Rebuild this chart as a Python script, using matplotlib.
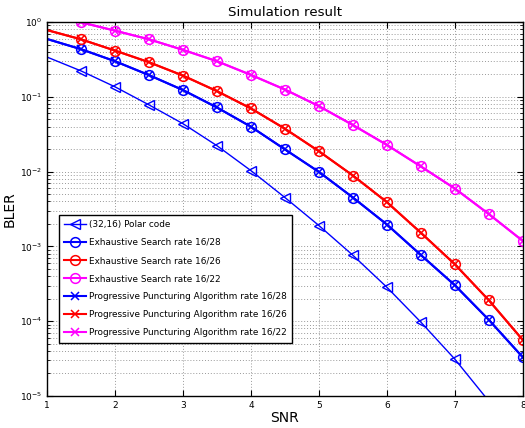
import matplotlib
matplotlib.use('Agg')
import matplotlib.pyplot as plt
from matplotlib.ticker import LogLocator, NullFormatter

snr = [1.0, 1.5, 2.0, 2.5, 3.0, 3.5, 4.0, 4.5, 5.0, 5.5, 6.0, 6.5, 7.0, 7.5, 8.0]

polar_snr = [1.0, 1.5, 2.0, 2.5, 3.0, 3.5, 4.0, 4.5, 5.0, 5.5, 6.0, 6.5, 7.0, 7.5]
polar_bler = [0.34, 0.222, 0.136, 0.078, 0.0437, 0.0222, 0.0103, 0.0045, 0.0019,
              7.6e-4, 2.84e-4, 9.7e-5, 3.1e-5, 8.5e-6]

es_28 = [0.593, 0.433, 0.299, 0.195, 0.123, 0.072, 0.0398, 0.0198, 0.0099,
         0.0045, 0.00196, 7.66e-4, 3.02e-4, 1.04e-4, 3.28e-5]
es_26 = [0.78, 0.587, 0.415, 0.29, 0.192, 0.119, 0.0699, 0.0374, 0.0187,
         0.00885, 0.0039, 0.00152, 5.75e-4, 1.9e-4, 5.58e-5]
es_22 = [1.25, 0.99, 0.766, 0.587, 0.424, 0.299, 0.196, 0.125, 0.075,
         0.0419, 0.0227, 0.0117, 0.00593, 0.0027, 0.00118]

ppa_28 = [0.593, 0.433, 0.299, 0.195, 0.123, 0.072, 0.0398, 0.0198, 0.0099,
          0.0045, 0.00196, 7.66e-4, 3.02e-4, 1.04e-4, 3.28e-5]
ppa_26 = [0.78, 0.587, 0.415, 0.29, 0.192, 0.119, 0.0699, 0.0374, 0.0187,
          0.00885, 0.0039, 0.00152, 5.75e-4, 1.9e-4, 5.58e-5]
ppa_22 = [1.25, 0.99, 0.766, 0.587, 0.424, 0.299, 0.196, 0.125, 0.075,
          0.0419, 0.0227, 0.0117, 0.00593, 0.0027, 0.00118]

fig = plt.figure(figsize=(5.25, 4.28), dpi=100)
ax = fig.add_axes([0.0895, 0.0748, 0.9065, 0.8738])

mk = slice(1, None)
ax.semilogy(polar_snr, polar_bler, color='blue', lw=1.0, marker='<', ms=7.5,
            mfc='none', mew=1.0, markevery=slice(1, -1), label='(32,16) Polar code')
ax.semilogy(snr, es_28, color='blue', lw=1.5, marker='o', ms=7, mfc='none',
            mew=1.1, markevery=mk, label='Exhaustive Search rate 16/28')
ax.semilogy(snr, es_26, color='red', lw=1.5, marker='o', ms=7, mfc='none',
            mew=1.1, markevery=mk, label='Exhaustive Search rate 16/26')
ax.semilogy(snr, es_22, color='magenta', lw=1.5, marker='o', ms=7, mfc='none',
            mew=1.1, markevery=mk, label='Exhaustive Search rate 16/22')
ax.semilogy(snr, ppa_28, color='blue', lw=1.5, marker='x', ms=5.5,
            mew=1.1, markevery=mk, label='Progressive Puncturing Algorithm rate 16/28')
ax.semilogy(snr, ppa_26, color='red', lw=1.5, marker='x', ms=5.5,
            mew=1.1, markevery=mk, label='Progressive Puncturing Algorithm rate 16/26')
ax.semilogy(snr, ppa_22, color='magenta', lw=1.5, marker='x', ms=5.5,
            mew=1.1, markevery=mk, label='Progressive Puncturing Algorithm rate 16/22')

ax.set_xlim(1, 8)
ax.set_ylim(1e-5, 1)
ax.set_xticks(range(1, 9))
ax.yaxis.set_major_locator(LogLocator(base=10, numticks=10))
ax.yaxis.set_minor_locator(LogLocator(base=10, subs=range(2, 10), numticks=10))
ax.yaxis.set_minor_formatter(NullFormatter())
ax.tick_params(which='both', direction='in', top=True, right=True, labelsize=6.5)
ax.tick_params(which='major', length=4)
ax.tick_params(which='minor', length=2)
ax.grid(True, which='major', linestyle=(0, (1, 2)), color='#999999', lw=0.7)
ax.grid(True, which='minor', axis='y', linestyle=(0, (1, 2)), color='#999999', lw=0.7)
for s in ax.spines.values():
    s.set_linewidth(1.0)

ax.set_title('Simulation result', fontsize=9.6, pad=4)
ax.set_xlabel('SNR', fontsize=10, labelpad=1)
ax.set_ylabel('BLER', fontsize=10, labelpad=2)

leg = ax.legend(loc='upper left', bbox_to_anchor=(0.016, 0.497), fontsize=6.4,
                fancybox=False, framealpha=1, edgecolor='black',
                handlelength=2.4, borderpad=0.6, labelspacing=1.02,
                handletextpad=0.4)
leg.get_frame().set_linewidth(1.0)

fig.savefig('out.png', dpi=100)
